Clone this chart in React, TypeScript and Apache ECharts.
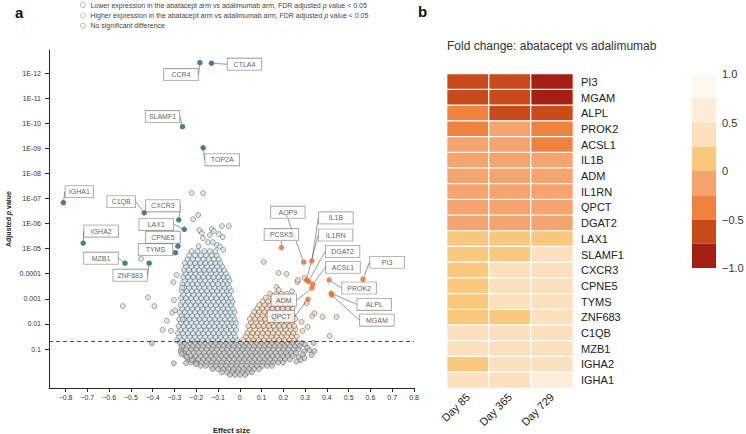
import React, { useEffect, useRef } from "react";
import * as echarts from "echarts";

const FONT = "'Liberation Sans', Arial, Helvetica, sans-serif";

// ---------- Panel a: volcano plot ----------
const X_TICKS = [-0.8, -0.7, -0.6, -0.5, -0.4, -0.3, -0.2, -0.1, 0, 0.1, 0.2, 0.3, 0.4, 0.5, 0.6, 0.7, 0.8];
const Y_TICKS = [1, 2, 3, 4, 5, 6, 7, 8, 9, 10, 11, 12]; // -log10(adjusted p)
const Y_TICK_LABELS = ["0.1", "0.01", "0.001", "0.0001", "1E-05", "1E-06", "1E-07", "1E-08", "1E-09", "1E-10", "1E-11", "1E-12"];
const FDR_LINE = 1.301; // -log10(0.05)

const NAME_LOWER = "Lower expression in the abatacept arm vs adalimumab arm, FDR adjusted p value < 0.05";
const NAME_HIGHER = "Higher expression in the abatacept arm vs adalimumab arm, FDR adjusted p value < 0.05";
const NAME_NS = "No significant difference";

// labelled genes: [gene, effect size, -log10 adjusted p]
const LABELLED_LOWER: [string, number, number][] = [
  ["CTLA4", -0.13, 12.39], ["CCR4", -0.183, 12.41], ["SLAMF1", -0.263, 9.86], ["TOP2A", -0.168, 9.02],
  ["IGHA1", -0.81, 6.83], ["C1QB", -0.439, 6.43], ["CXCR3", -0.28, 6.15], ["LAX1", -0.255, 5.77],
  ["CPNE5", -0.284, 5.1], ["TYMS", -0.295, 4.84], ["IGHA2", -0.719, 5.22], ["MZB1", -0.527, 4.42],
  ["ZNF683", -0.416, 4.42],
];
const LABELLED_HIGHER: [string, number, number][] = [
  ["PCSK5", 0.191, 5.04], ["AQP9", 0.294, 4.46], ["IL1B", 0.331, 4.51], ["IL1RN", 0.307, 3.75],
  ["DGAT2", 0.316, 3.69], ["ACSL1", 0.336, 3.58], ["PI3", 0.566, 3.78], ["PROK2", 0.41, 3.75],
  ["ALPL", 0.42, 3.22], ["MGAM", 0.423, 3.15], ["ADM", 0.331, 3.43], ["QPCT", 0.313, 2.98],
];

// dense cloud of lower-expression genes: [-log10 p, effect sizes]
const LOWER_ROWS: [number, number[]][] = [
  [1.35, [-0.29, -0.266, -0.241, -0.219, -0.194, -0.171, -0.147, -0.124, -0.1, -0.077, -0.054, -0.031, -0.012]],
  [1.49, [-0.278, -0.254, -0.23, -0.206, -0.183, -0.159, -0.136, -0.112, -0.089, -0.065, -0.042, -0.02]],
  [1.63, [-0.284, -0.262, -0.238, -0.215, -0.19, -0.168, -0.144, -0.121, -0.097, -0.074, -0.05, -0.028]],
  [1.77, [-0.273, -0.25, -0.226, -0.203, -0.179, -0.156, -0.132, -0.109, -0.086, -0.062, -0.039, -0.017]],
  [1.91, [-0.281, -0.258, -0.234, -0.211, -0.188, -0.164, -0.141, -0.117, -0.094, -0.07, -0.047, -0.025]],
  [2.05, [-0.27, -0.246, -0.222, -0.199, -0.176, -0.152, -0.129, -0.106, -0.082, -0.059, -0.036, -0.018]],
  [2.19, [-0.278, -0.255, -0.231, -0.208, -0.184, -0.161, -0.138, -0.114, -0.091, -0.068, -0.044, -0.024]],
  [2.33, [-0.267, -0.243, -0.219, -0.196, -0.173, -0.149, -0.126, -0.103, -0.079, -0.056, -0.033]],
  [2.47, [-0.276, -0.252, -0.229, -0.205, -0.182, -0.158, -0.135, -0.112, -0.088, -0.065, -0.042, -0.024]],
  [2.61, [-0.265, -0.241, -0.218, -0.194, -0.171, -0.147, -0.124, -0.101, -0.077, -0.054, -0.032]],
  [2.75, [-0.272, -0.249, -0.226, -0.203, -0.179, -0.156, -0.133, -0.109, -0.086, -0.063, -0.04]],
  [2.89, [-0.262, -0.238, -0.215, -0.192, -0.168, -0.145, -0.121, -0.098, -0.075, -0.052, -0.033]],
  [3.03, [-0.27, -0.247, -0.223, -0.2, -0.177, -0.153, -0.13, -0.107, -0.083, -0.06, -0.041]],
  [3.17, [-0.259, -0.236, -0.212, -0.189, -0.165, -0.142, -0.119, -0.095, -0.072, -0.05]],
  [3.31, [-0.267, -0.244, -0.22, -0.197, -0.174, -0.15, -0.127, -0.104, -0.08, -0.058, -0.04]],
  [3.45, [-0.256, -0.233, -0.209, -0.186, -0.163, -0.139, -0.116, -0.093, -0.069, -0.048]],
  [3.59, [-0.263, -0.24, -0.217, -0.194, -0.17, -0.147, -0.124, -0.1, -0.077, -0.056]],
  [3.73, [-0.253, -0.229, -0.206, -0.183, -0.159, -0.136, -0.113, -0.089, -0.066, -0.047]],
  [3.87, [-0.26, -0.237, -0.213, -0.19, -0.167, -0.143, -0.12, -0.097, -0.074, -0.055]],
  [4.01, [-0.25, -0.226, -0.203, -0.18, -0.156, -0.133, -0.11, -0.086, -0.064]],
  [4.15, [-0.256, -0.233, -0.21, -0.186, -0.163, -0.14, -0.116, -0.093, -0.072]],
  [4.29, [-0.247, -0.222, -0.198, -0.175, -0.15, -0.128, -0.104, -0.081]],
  [4.43, [-0.252, -0.228, -0.205, -0.181, -0.158, -0.134, -0.112, -0.09]],
  [4.58, [-0.24, -0.215, -0.192, -0.166, -0.143, -0.119, -0.097]],
  [4.74, [-0.233, -0.205, -0.178, -0.155, -0.128, -0.106]],
  [4.9, [-0.221, -0.193, -0.162, -0.137, -0.112]],
];
// sparse lower-expression genes: [effect size, -log10 p]
const LOWER_SPARSE: [number, number][] = [
  [-0.221, 7.22], [-0.168, 7.21], [-0.191, 6.34], [-0.214, 6.17], [-0.186, 5.74], [-0.189, 5.1],
  [-0.174, 5.62], [-0.128, 5.78], [-0.119, 5.7], [-0.082, 5.9], [-0.05, 5.9], [-0.078, 5.46],
  [-0.096, 5.58], [-0.146, 5.26], [-0.124, 5.26], [-0.169, 5.42], [-0.105, 5.14], [-0.092, 5.08],
  [-0.076, 4.95], [-0.137, 5.54], [-0.453, 4.6], [-0.537, 2.71], [-0.422, 3.06], [-0.392, 2.71],
  [-0.31, 2.45], [-0.335, 2.13], [-0.354, 1.76], [-0.316, 1.72], [-0.29, 3.95], [-0.305, 3.66],
  [-0.265, 3.44], [-0.262, 2.18], [-0.302, 2.95], [-0.297, 2.55],
];

// dense cloud of non-significant genes: [-log10 p, effect sizes]
const NS_ROWS: [number, number[]][] = [
  [1.24, [-0.275, -0.252, -0.228, -0.205, -0.181, -0.158, -0.134, -0.111, -0.088, -0.064, -0.041, -0.017, 0.006, 0.03, 0.053, 0.077, 0.1, 0.124, 0.147, 0.171, 0.194, 0.218, 0.241, 0.265, 0.285]],
  [1.11, [-0.265, -0.24, -0.217, -0.193, -0.17, -0.146, -0.123, -0.099, -0.076, -0.052, -0.029, -0.005, 0.018, 0.042, 0.065, 0.089, 0.112, 0.136, 0.159, 0.183, 0.206, 0.23, 0.253, 0.276]],
  [0.98, [-0.27, -0.246, -0.222, -0.199, -0.175, -0.152, -0.128, -0.105, -0.081, -0.058, -0.034, -0.011, 0.013, 0.036, 0.06, 0.083, 0.107, 0.13, 0.154, 0.177, 0.201, 0.224, 0.248, 0.27]],
  [0.85, [-0.258, -0.234, -0.211, -0.187, -0.164, -0.14, -0.117, -0.093, -0.07, -0.046, -0.023, 0.001, 0.024, 0.048, 0.071, 0.095, 0.118, 0.142, 0.165, 0.189, 0.212, 0.236, 0.258]],
  [0.72, [-0.25, -0.226, -0.203, -0.179, -0.156, -0.132, -0.109, -0.085, -0.062, -0.038, -0.015, 0.009, 0.032, 0.056, 0.079, 0.103, 0.126, 0.15, 0.173, 0.197, 0.22, 0.243]],
  [0.59, [-0.238, -0.214, -0.191, -0.167, -0.144, -0.12, -0.097, -0.073, -0.05, -0.026, -0.003, 0.021, 0.044, 0.068, 0.091, 0.115, 0.138, 0.162, 0.185, 0.208, 0.23]],
  [0.46, [-0.225, -0.2, -0.176, -0.153, -0.129, -0.106, -0.082, -0.059, -0.035, -0.012, 0.012, 0.035, 0.059, 0.082, 0.106, 0.129, 0.153, 0.176, 0.198]],
  [0.33, [-0.18, -0.156, -0.132, -0.109, -0.085, -0.062, -0.038, -0.015, 0.009, 0.032, 0.056, 0.079, 0.103, 0.126, 0.148]],
  [0.2, [-0.125, -0.1, -0.076, -0.053, -0.029, -0.006, 0.018, 0.041, 0.065, 0.088]],
  [0.07, [-0.082, -0.058, -0.035, -0.011, 0.012, 0.036, 0.056]],
  [-0.03, [-0.045, -0.022, 0.002, 0.025]],
];
const NS_SPARSE: [number, number][] = [
  [-0.404, 1.23], [-0.303, 0.43], [-0.27, 0.89], [-0.267, 0.8], [-0.243, 0.68], [-0.22, 0.56],
  [-0.247, 0.44], [-0.201, 0.4], [0.3, 1.18], [0.31, 1.05], [0.296, 0.9], [0.32, 0.95], [0.29, 0.78],
  [0.27, 0.68], [0.28, 0.56], [0.26, 0.5], [0.339, 1.24], [0.343, 0.92], [0.33, 0.76], [0.297, 0.64],
];

// dense cloud of higher-expression genes: [-log10 p, effect sizes]
const HIGHER_ROWS: [number, number[]][] = [
  [1.36, [0.016, 0.04, 0.063, 0.087, 0.11, 0.134, 0.157, 0.181, 0.204, 0.228, 0.25]],
  [1.5, [0.028, 0.052, 0.075, 0.099, 0.122, 0.146, 0.169, 0.193, 0.216, 0.24, 0.262]],
  [1.64, [0.035, 0.058, 0.082, 0.105, 0.129, 0.152, 0.176, 0.199, 0.223, 0.246]],
  [1.78, [0.046, 0.07, 0.093, 0.117, 0.14, 0.164, 0.187, 0.211, 0.234, 0.256]],
  [1.92, [0.04, 0.063, 0.087, 0.11, 0.134, 0.157, 0.181, 0.204, 0.228, 0.25]],
  [2.06, [0.052, 0.075, 0.099, 0.122, 0.146, 0.169, 0.193, 0.216, 0.24]],
  [2.2, [0.046, 0.07, 0.093, 0.117, 0.14, 0.164, 0.187, 0.211, 0.234, 0.255]],
  [2.34, [0.058, 0.082, 0.105, 0.129, 0.152, 0.176, 0.199, 0.223, 0.245]],
  [2.48, [0.066, 0.09, 0.113, 0.137, 0.16, 0.184, 0.207, 0.23]],
  [2.62, [0.08, 0.103, 0.127, 0.15, 0.174, 0.197, 0.22, 0.243]],
  [2.76, [0.09, 0.114, 0.138, 0.161, 0.185, 0.208, 0.232]],
  [2.9, [0.105, 0.13, 0.155, 0.178, 0.2, 0.225]],
  [3.05, [0.12, 0.15, 0.175, 0.2, 0.222]],
  [3.2, [0.14, 0.168, 0.193, 0.215]],
];
const HIGHER_SPARSE: [number, number][] = [
  [0.11, 4.47], [0.178, 4.03], [0.215, 3.99], [0.265, 3.67], [0.297, 3.83], [0.169, 3.47],
  [0.178, 3.35], [0.38, 2.28], [0.444, 2.28], [0.412, 1.52], [0.334, 2.32], [0.307, 2.83],
  [0.288, 1.72], [0.284, 2.08], [0.311, 1.88], [0.343, 2.43], [0.267, 3.75], [0.24, 3.3],
];

// label box offsets (px) from the point, and box content widths
const LABEL_OFFSETS: Record<string, [number, number]> = {
  CTLA4: [33, 1], CCR4: [-19, 12], SLAMF1: [-20, -10], TOP2A: [19, 12], IGHA1: [16, -11],
  C1QB: [-23, -11], CXCR3: [-16, -14], LAX1: [-28, -5], CPNE5: [-15, -9], TYMS: [-20, -3],
  IGHA2: [18, -12], MZB1: [-24, -5], ZNF683: [-19, 12],
  PCSK5: [0, -13], AQP9: [-16, -50], IL1B: [24, -43], IL1RN: [29, -45], DGAT2: [34, -30],
  ACSL1: [30, -17], PI3: [24, -17], PROK2: [30, 8], ALPL: [43, 11], MGAM: [45, 25], ADM: [-28, 12],
  QPCT: [-27, 17],
};
const LABEL_WIDTHS: Record<string, number> = { IGHA1: 16, C1QB: 16, ADM: 13, QPCT: 15 };

// ---------- Panel b: heatmap ----------
const DAYS = ["Day 85", "Day 365", "Day 729"];
const GENES = ["PI3", "MGAM", "ALPL", "PROK2", "ACSL1", "IL1B", "ADM", "IL1RN", "QPCT", "DGAT2",
  "LAX1", "SLAMF1", "CXCR3", "CPNE5", "TYMS", "ZNF683", "C1QB", "MZB1", "IGHA2", "IGHA1"];
const FOLD_CHANGE: number[][] = [
  [-0.62, -0.6, -0.88], [-0.64, -0.6, -0.9], [-0.4, -0.62, -0.6], [-0.38, -0.15, -0.4],
  [-0.14, -0.12, -0.38], [-0.12, -0.12, -0.13], [-0.12, -0.12, -0.12], [-0.12, -0.12, -0.12],
  [-0.12, -0.12, -0.12], [-0.12, -0.12, -0.12], [0.12, 0.12, 0.12], [0.12, 0.12, 0.35],
  [0.12, 0.35, 0.35], [0.12, 0.35, 0.35], [0.12, 0.35, 0.35], [0.12, 0.12, 0.35],
  [0.35, 0.35, 0.35], [0.35, 0.35, 0.35], [0.12, 0.35, 0.35], [0.35, 0.35, 0.6],
];
const COLOR_PIECES = [
  { min: -1, max: -0.75, color: "#a61f14" },
  { min: -0.75, max: -0.5, color: "#c94a1a" },
  { min: -0.5, max: -0.25, color: "#ef823f" },
  { min: -0.25, max: 0, color: "#f5a470" },
  { min: 0, max: 0.25, color: "#fbc97e" },
  { min: 0.25, max: 0.5, color: "#fde1bf" },
  { min: 0.5, max: 0.75, color: "#fdeedc" },
  { min: 0.75, max: 1, color: "#fef8ef" },
];
const COLORBAR_TICKS = [-1, -0.5, 0, 0.5, 1];

const fmtSigned = (v: number, digits: number) => {
  if (Math.abs(v) < 1e-9) return "0";
  const s = Math.abs(v).toFixed(digits);
  return v < 0 ? "\u2212" + s : s;
};

export default function App() {
  const ref = useRef<HTMLDivElement>(null);
  useEffect(() => {
    if (!ref.current) return;
    const chart = echarts.init(ref.current, null, { renderer: "svg" });
    const rows = (r: [number, number[]][]) => r.flatMap(([v, xs]) => xs.map((x) => [x, v]));
    const pointStyle = (fill: string) => ({ color: fill, borderColor: "#4a4a4a", borderWidth: 0.6 });
    const labelled = (list: [string, number, number][], color: string, idx: number) => ({
      type: "scatter",
      name: "labelled" + idx,
      xAxisIndex: 0,
      yAxisIndex: 0,
      symbolSize: 5.5,
      z: 5,
      silent: true,
      itemStyle: { color },
      data: list.map(([g, x, v]) => ({
        name: g,
        value: [x, v],
        label: { width: LABEL_WIDTHS[g] ?? 22 },
      })),
      label: {
        show: true,
        position: "inside",
        formatter: "{b}",
        fontSize: 7,
        lineHeight: 8,
        color: "#333",
        align: "center",
        backgroundColor: "#fff",
        borderColor: "#6a6a6a",
        borderWidth: 0.6,
        padding: [2, 6, 1.5, 6],
        fontFamily: FONT,
      },
      labelLine: { show: true, lineStyle: { color: "#555", width: 0.6 } },
      labelLayout: (p: any) => {
        const o = LABEL_OFFSETS[p.text];
        return o ? { dx: o[0], dy: o[1] } : {};
      },
      emphasis: { disabled: true },
    });

    const option: any = {
      animation: false,
      textStyle: { fontFamily: FONT },
      title: [
        { text: "a", left: 15, top: 5, padding: 0, textStyle: { fontSize: 15, fontWeight: "bold", color: "#111", fontFamily: FONT } },
        { text: "b", left: 418, top: 4, padding: 0, textStyle: { fontSize: 15, fontWeight: "bold", color: "#111", fontFamily: FONT } },
        { text: "Fold change: abatacept vs adalimumab", left: 447, top: 40, padding: 0, textStyle: { fontSize: 12, fontWeight: "normal", color: "#333", fontFamily: FONT } },
      ],
      legend: {
        left: 80,
        top: 0,
        padding: 0,
        orient: "vertical",
        itemWidth: 5,
        itemHeight: 5,
        itemGap: 0,
        selectedMode: false,
        data: [
          { name: NAME_LOWER, icon: "circle", itemStyle: { color: "#fff", borderColor: "#6f98ad", borderWidth: 0.8 } },
          { name: NAME_HIGHER, icon: "circle", itemStyle: { color: "#fff", borderColor: "#d8946a", borderWidth: 0.8 } },
          { name: NAME_NS, icon: "circle", itemStyle: { color: "#fff", borderColor: "#8a8a8a", borderWidth: 0.8 } },
        ],
        formatter: (n: string) => n.replace(" p value", " {i|p} value"),
        textStyle: {
          fontSize: 7,
          lineHeight: 10.3,
          color: "#444",
          fontFamily: FONT,
          rich: { i: { fontStyle: "italic", fontSize: 7, color: "#444", fontFamily: FONT } },
        },
      },
      grid: [
        { left: 49, top: 50, width: 365, height: 338, outerBoundsMode: "none" },
        { left: 447, top: 74, width: 126, height: 314, outerBoundsMode: "none" },
        { left: 692, top: 74, width: 24, height: 194, outerBoundsMode: "none" },
      ],
      xAxis: [
        {
          type: "value",
          gridIndex: 0,
          min: -0.876,
          max: 0.8,
          name: "Effect size",
          nameLocation: "middle",
          nameGap: 38,
          nameTextStyle: { fontSize: 7.5, fontWeight: "bold", color: "#222" },
          axisLine: { show: true, onZero: false, lineStyle: { color: "#111", width: 0.9 } },
          axisTick: { show: true, customValues: X_TICKS, length: 4, lineStyle: { color: "#111", width: 0.9 } },
          axisLabel: { customValues: X_TICKS, formatter: (v: number) => fmtSigned(v, 1), fontSize: 7, color: "#333", margin: 6 },
          splitLine: { show: false },
        },
        {
          type: "category",
          gridIndex: 1,
          data: DAYS,
          axisLine: { show: false },
          axisTick: { show: false },
          axisLabel: { rotate: 45, fontSize: 11, color: "#222", margin: 7, interval: 0 },
          splitLine: { show: false },
        },
        { type: "value", gridIndex: 2, min: 0, max: 1, show: false },
      ],
      yAxis: [
        {
          type: "value",
          gridIndex: 0,
          min: -0.554,
          max: 12.917,
          name: "Adjusted {bi|p} value",
          nameLocation: "middle",
          nameRotate: 90,
          nameGap: 37,
          nameTextStyle: {
            fontSize: 7,
            fontWeight: "bold",
            color: "#222",
            rich: { bi: { fontSize: 7, fontWeight: "bold", fontStyle: "italic", color: "#222" } },
          },
          axisLine: { show: true, onZero: false, lineStyle: { color: "#111", width: 0.9 } },
          axisTick: { show: true, customValues: Y_TICKS, length: 4, lineStyle: { color: "#111", width: 0.9 } },
          axisLabel: { customValues: Y_TICKS, formatter: (v: number) => Y_TICK_LABELS[Math.round(v) - 1] ?? "", fontSize: 7, color: "#333", margin: 8 },
          splitLine: { show: false },
        },
        {
          type: "category",
          gridIndex: 1,
          data: GENES,
          inverse: true,
          position: "right",
          axisLine: { show: false },
          axisTick: { show: false },
          axisLabel: { fontSize: 11, color: "#222", margin: 8, interval: 0 },
          splitLine: { show: false },
        },
        {
          type: "value",
          gridIndex: 2,
          min: -1,
          max: 1,
          position: "right",
          axisLine: { show: false },
          axisTick: { show: false },
          splitLine: { show: false },
          axisLabel: { customValues: COLORBAR_TICKS, formatter: (v: number) => fmtSigned(v, v === 0 ? 0 : 1), fontSize: 11, color: "#333", margin: 6 },
        },
      ],
      visualMap: {
        type: "piecewise",
        seriesIndex: 5,
        orient: "vertical",
        left: 692,
        top: 74,
        padding: 0,
        itemWidth: 24,
        itemHeight: 24.25,
        itemGap: 0,
        itemSymbol: "rect",
        showLabel: false,
        selectedMode: false,
        hoverLink: false,
        pieces: COLOR_PIECES.map((p) => ({ gte: p.min, lt: p.max, color: p.color })),
      },
      series: [
        {
          type: "scatter",
          name: NAME_NS,
          xAxisIndex: 0,
          yAxisIndex: 0,
          symbolSize: 5,
          silent: true,
          itemStyle: pointStyle("#c3c3c3"),
          data: [...rows(NS_ROWS), ...NS_SPARSE],
          markLine: {
            silent: true,
            symbol: "none",
            label: { show: false },
            lineStyle: { type: [4, 3], color: "#222", width: 0.8 },
            data: [{ yAxis: FDR_LINE }],
          },
        },
        {
          type: "scatter",
          name: NAME_LOWER,
          xAxisIndex: 0,
          yAxisIndex: 0,
          symbolSize: 5,
          silent: true,
          itemStyle: pointStyle("#cfe4ee"),
          data: [...rows(LOWER_ROWS), ...LOWER_SPARSE],
        },
        {
          type: "scatter",
          name: NAME_HIGHER,
          xAxisIndex: 0,
          yAxisIndex: 0,
          symbolSize: 5,
          silent: true,
          itemStyle: pointStyle("#f8d4b6"),
          data: [...rows(HIGHER_ROWS), ...HIGHER_SPARSE],
        },
        labelled(LABELLED_LOWER, "#1c5f7b", 0),
        labelled(LABELLED_HIGHER, "#e4692b", 1),
        {
          type: "heatmap",
          xAxisIndex: 1,
          yAxisIndex: 1,
          silent: true,
          itemStyle: { borderColor: "#fff", borderWidth: 1.2 },
          emphasis: { disabled: true },
          data: FOLD_CHANGE.flatMap((row, gi) => row.map((v, di) => [di, gi, v])),
        },
        { type: "scatter", xAxisIndex: 2, yAxisIndex: 2, data: [], silent: true },
      ],
    };
    chart.setOption(option);
    return () => chart.dispose();
  }, []);
  return (
    <div
      ref={ref}
      style={{ position: "fixed", left: 0, top: 0, width: 746, height: 434, background: "#fff" }}
    />
  );
}
